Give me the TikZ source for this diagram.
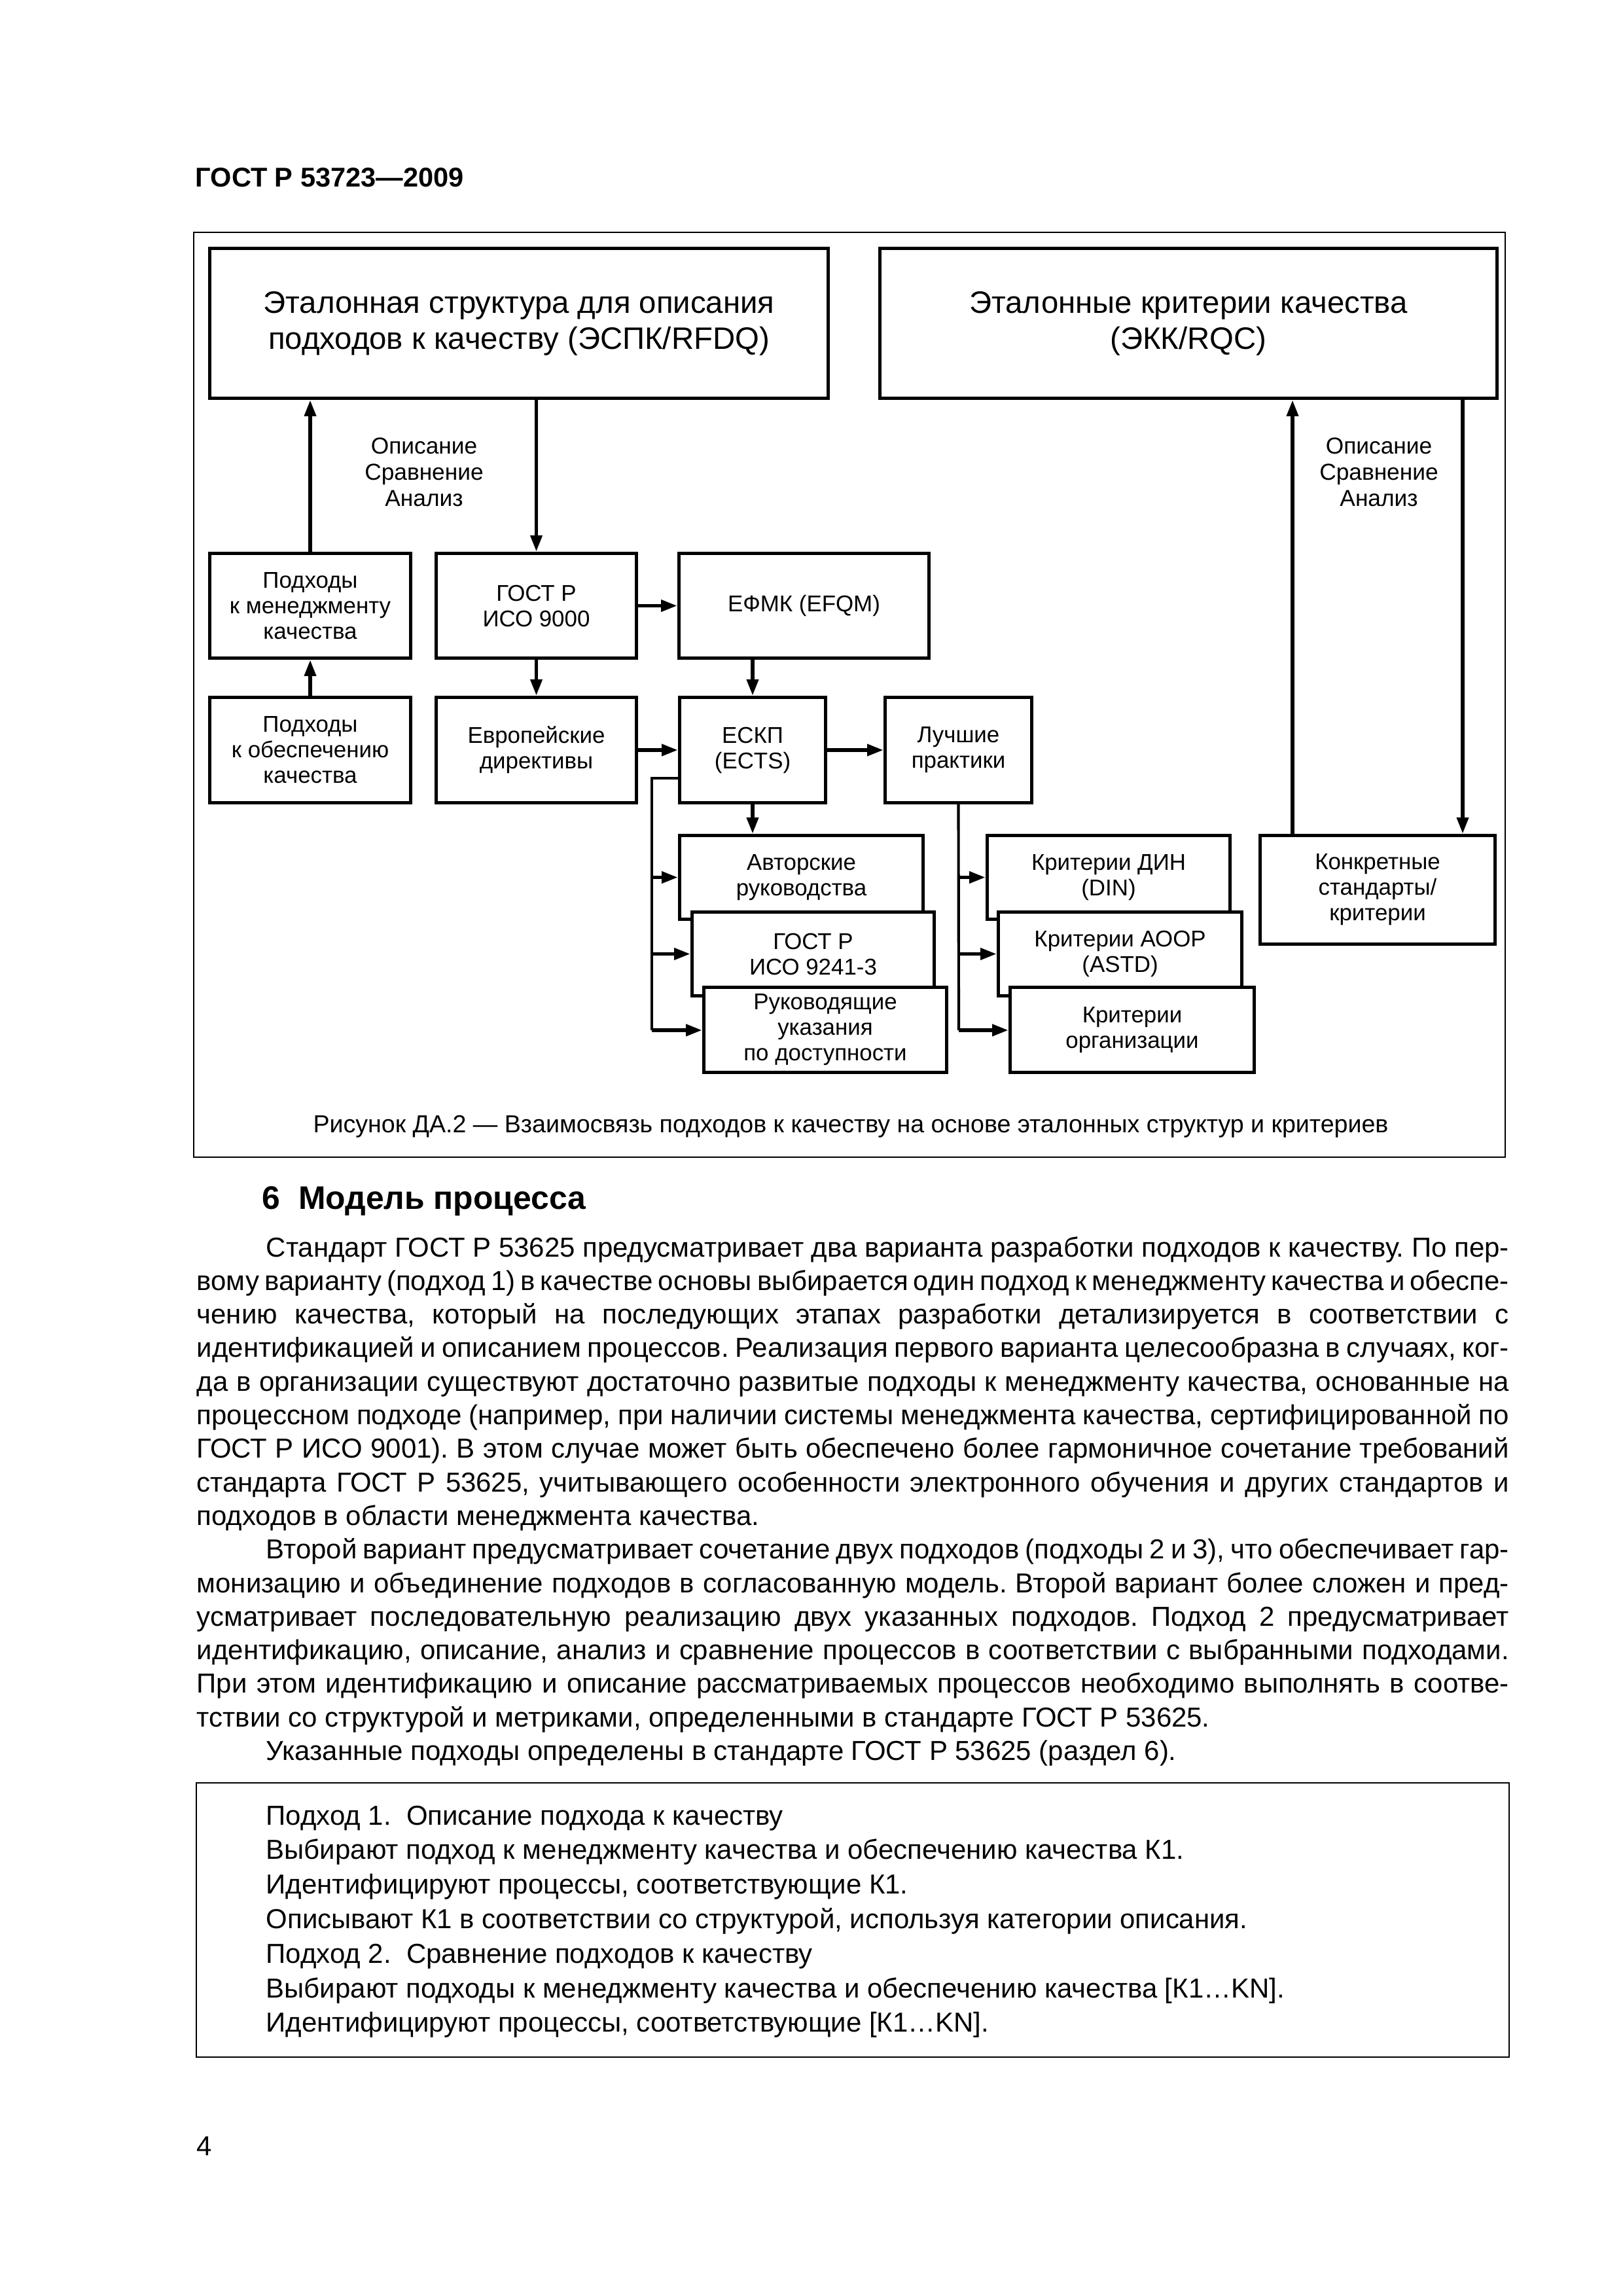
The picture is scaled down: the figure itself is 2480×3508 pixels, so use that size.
\documentclass[tikz,border=0pt]{standalone}
\usepackage{fontspec}
\setmainfont{Liberation Sans}
\usetikzlibrary{arrows.meta}
\frenchspacing
\newdimen\pxu
\pxu=0.0846667mm
% box from corner (x1,y1) to (x2,y2), in page pixels
\newcommand\blk[7][box]{\node[#1, minimum width={(#5-#3-5)*\pxu}, minimum height={(#6-#4-5)*\pxu}] (#2) at ({(#3+#5)/2},{(#4+#6)/2}) {#7};}
\newcommand\jl[1]{\makebox[2005\pxu][s]{#1}}
\tikzset{
  box/.style={draw, line width=1.2pt, fill=white, align=center, inner sep=0pt, font=\fontsize{8.4}{9.4}\selectfont},
  bigbox/.style={box, font=\fontsize{11.4}{13.2}\selectfont},
  link/.style={line width=1.4pt, -{Triangle[length=2.1mm, width=1.45mm]}},
  trunk/.style={line width=1pt},
  lbl/.style={align=center, inner sep=0pt, font=\fontsize{8.5}{9.6}\selectfont},
  body/.style={anchor=base west, inner sep=0pt, font=\fontsize{10.1}{12.3}\selectfont},
}
\begin{document}
\begin{tikzpicture}[x=\pxu, y=-\pxu]
  \useasboundingbox (0,0) rectangle (2480,3508);
  \node[body, font=\bfseries\fontsize{10}{12}\selectfont] (hdr) at (298,285) {ГОСТ Р 53723—2009};

  % figure
  \draw[line width=0.55pt] (296,355) rectangle (2300,1768);
  \blk[bigbox]{refA}{318}{377}{1268}{611}{Эталонная структура для описания\\подходов к качеству (ЭСПК/RFDQ)}
  \blk[bigbox]{refB}{1342}{377}{2290}{611}{Эталонные критерии качества\\(ЭКК/RQC)}
  \node[lbl] (opA) at (648,721) {Описание\\Сравнение\\Анализ};
  \node[lbl] (opB) at (2107,721) {Описание\\Сравнение\\Анализ};

  \blk{pm}{318}{843}{630}{1008}{Подходы\\к менеджменту\\качества}
  \blk{g9000}{664}{843}{975}{1008}{ГОСТ Р\\ИСО 9000}
  \blk{efqm}{1035}{843}{1422}{1008}{ЕФМК (EFQM)}
  \blk{qa}{318}{1063}{630}{1229}{Подходы\\к обеспечению\\качества}
  \blk{eudir}{664}{1063}{975}{1229}{Европейские\\директивы}
  \blk{eskp}{1036}{1063}{1264}{1229}{ЕСКП\\(ECTS)}
  \blk{best}{1350}{1063}{1579}{1229}{Лучшие\\практики}
  \blk{avt}{1036}{1274}{1413}{1407}{Авторские\\руководства}
  \blk{g9241}{1055}{1391}{1430}{1524}{ГОСТ Р\\ИСО 9241-3}
  \blk{rk}{1073}{1506}{1449}{1641}{Руководящие\\указания\\по доступности}
  \blk{din}{1506}{1274}{1882}{1407}{Критерии ДИН\\(DIN)}
  \blk{astd}{1523}{1391}{1900}{1524}{Критерии АООР\\(ASTD)}
  \blk{org}{1541}{1506}{1919}{1641}{Критерии\\организации}
  \blk{konk}{1923}{1274}{2287}{1445}{Конкретные\\стандарты/\\критерии}

  \draw[link] (pm.north) -- (pm.north |- refA.south);
  \draw[link] (g9000.north |- refA.south) -- (g9000.north);
  \draw[link] (qa.north) -- (pm.south);
  \draw[link] (g9000.east) -- (efqm.west |- g9000.east);
  \draw[link] (g9000.south) -- (eudir.north);
  \draw[link] (efqm.south -| eskp.north) -- (eskp.north);
  \draw[link] (eudir.east) -- (eskp.west);
  \draw[link] (eskp.east) -- (best.west);
  \draw[link] (eskp.south) -- (eskp.south |- avt.north);
  \draw[link] ([xshift=-130\pxu]konk.north) -- ([xshift=-130\pxu]konk.north |- refB.south);
  \draw[link] ([xshift=130\pxu]konk.north |- refB.south) -- ([xshift=130\pxu]konk.north);

  \coordinate (lt) at (996,1189);
  \coordinate (lb) at (996,1574);
  \draw[trunk] (eskp.west |- lt) -- (lt) -- (lb);
  \draw[link] (lt |- avt.west) -- (avt.west);
  \draw[link] (lt |- g9241.west) -- (g9241.west);
  \draw[link] (lb) -- (lb -| rk.west);
  \coordinate (rb) at (1465,1574);
  \draw[trunk] (best.south) -- (rb);
  \draw[link] (rb |- din.west) -- (din.west);
  \draw[link] (rb |- astd.west) -- (astd.west);
  \draw[link] (rb) -- (rb -| org.west);

  \node[font=\fontsize{9.05}{11}\selectfont, anchor=base, inner sep=0pt] (cap) at (1300,1730)
    {Рисунок ДА.2 — Взаимосвязь подходов к качеству на основе эталонных структур и критериев};

  % text of the page
  \node[body, font=\bfseries\fontsize{12}{14}\selectfont] (sec) at (400,1847) {6\ \ Модель процесса};
  \foreach \row [count=\i from 0] in {
    {\jl{\hspace*{106\pxu}Стандарт ГОСТ Р 53625 предусматривает два варианта разработки подходов к качеству. По пер-}},
    {\jl{вому варианту (подход 1) в качестве основы выбирается один подход к менеджменту качества и обеспе-}},
    {\jl{чению качества, который на последующих этапах разработки детализируется в соответствии с}},
    {\jl{идентификацией и описанием процессов. Реализация первого варианта целесообразна в случаях, ког-}},
    {\jl{да в организации существуют достаточно развитые подходы к менеджменту качества, основанные на}},
    {\jl{процессном подходе (например, при наличии системы менеджмента качества, сертифицированной по}},
    {\jl{ГОСТ Р ИСО 9001). В этом случае может быть обеспечено более гармоничное сочетание требований}},
    {\jl{стандарта ГОСТ Р 53625, учитывающего особенности электронного обучения и других стандартов и}},
    {подходов в области менеджмента качества.},
    {\jl{\hspace*{106\pxu}Второй вариант предусматривает сочетание двух подходов (подходы 2 и 3), что обеспечивает гар-}},
    {\jl{монизацию и объединение подходов в согласованную модель. Второй вариант более сложен и пред-}},
    {\jl{усматривает последовательную реализацию двух указанных подходов. Подход 2 предусматривает}},
    {\jl{идентификацию, описание, анализ и сравнение процессов в соответствии с выбранными подходами.}},
    {\jl{При этом идентификацию и описание рассматриваемых процессов необходимо выполнять в соотве-}},
    {тствии со структурой и метриками, определенными в стандарте ГОСТ Р 53625.},
    {\hspace*{106\pxu}Указанные подходы определены в стандарте ГОСТ Р 53625 (раздел 6).}}
    \node[body] (para\i) at (300,{1920+51.3*\i}) {\row};

  \draw[line width=0.55pt] (300,2724) rectangle (2306,3143);
  \foreach \row [count=\i from 0] in {
    {Подход 1.\ \ Описание подхода к качеству},
    {Выбирают подход к менеджменту качества и обеспечению качества К1.},
    {Идентифицируют процессы, соответствующие К1.},
    {Описывают К1 в соответствии со структурой, используя категории описания.},
    {Подход 2.\ \ Сравнение подходов к качеству},
    {Выбирают подходы к менеджменту качества и обеспечению качества [К1…KN].},
    {Идентифицируют процессы, соответствующие [К1…KN].}}
    \node[body] (note\i) at (406,{2788+52.8*\i}) {\row};

  \node[body] (pg) at (300,3293) {4};
\end{tikzpicture}
\end{document}
